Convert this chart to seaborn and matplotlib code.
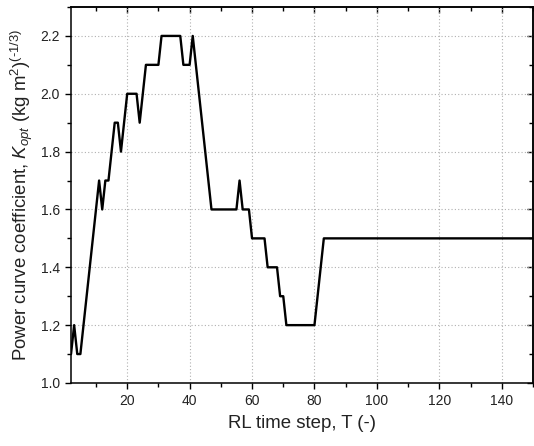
import matplotlib
matplotlib.use("Agg")
import matplotlib.pyplot as plt
import seaborn as sns
import pandas as pd
from matplotlib.ticker import MultipleLocator

# Data (vertices of the line)
time_step = [2, 3, 4, 5, 11, 12, 13, 14, 16, 17, 18, 20, 23, 24, 26, 30, 31, 37, 38, 40,
             41, 47, 55, 56, 57, 59, 60, 64, 65, 68, 69, 70, 71, 80, 83, 150]
k_opt = [1.1, 1.2, 1.1, 1.1, 1.7, 1.6, 1.7, 1.7, 1.9, 1.9, 1.8, 2.0, 2.0, 1.9, 2.1, 2.1, 2.2, 2.2, 2.1, 2.1,
         2.2, 1.6, 1.6, 1.7, 1.6, 1.6, 1.5, 1.5, 1.4, 1.4, 1.3, 1.3, 1.2, 1.2, 1.5, 1.5]

x_ticks = [20, 40, 60, 80, 100, 120, 140]
y_ticks = [1.0, 1.2, 1.4, 1.6, 1.8, 2.0, 2.2]

sns.set_theme(style="white")
plt.rcParams['font.family'] = ['Liberation Sans', 'DejaVu Sans']
plt.rcParams['mathtext.fontset'] = 'custom'
plt.rcParams['mathtext.rm'] = 'Liberation Sans'
plt.rcParams['mathtext.it'] = 'Liberation Sans:italic'

df = pd.DataFrame({"T": time_step, "K": k_opt})

fig = plt.figure(figsize=(5.34, 4.46), dpi=100)
ax = fig.add_axes([0.133, 0.1413, 0.865, 0.843])

sns.lineplot(data=df, x="T", y="K", ax=ax, color="black", linewidth=1.7, sort=False)

ax.set_xlim(2, 150)
ax.set_ylim(1.0, 2.3)
ax.set_xticks(x_ticks)
ax.set_yticks(y_ticks)
ax.xaxis.set_minor_locator(MultipleLocator(10))
ax.yaxis.set_minor_locator(MultipleLocator(0.1))
ax.set_yticklabels([f"{v:.1f}" for v in y_ticks])

ax.grid(True, which="major", color="#b0b0b0", linestyle=(0, (1, 2)), linewidth=0.8)

for s in ax.spines.values():
    s.set_color("black")
    s.set_linewidth(1.1)

ax.tick_params(axis="both", which="major", direction="out", length=4.5, width=1.0,
               color="black", labelsize=10, labelcolor="#222222", bottom=True, left=True, pad=3.5)
ax.tick_params(axis="both", which="minor", direction="out", length=3, width=1.0,
               color="black", bottom=True, left=True)

# Mirrored inward ticks on top and right
sec_x = ax.secondary_xaxis("top")
sec_x.set_xticks(x_ticks)
sec_x.xaxis.set_minor_locator(MultipleLocator(10))
sec_x.tick_params(which="major", direction="in", length=4.5, width=1.0, labeltop=False, color="black")
sec_x.tick_params(which="minor", direction="in", length=3, width=1.0, color="black")
sec_y = ax.secondary_yaxis("right")
sec_y.set_yticks(y_ticks)
sec_y.yaxis.set_minor_locator(MultipleLocator(0.1))
sec_y.tick_params(which="major", direction="in", length=4.5, width=1.0, labelright=False, color="black")
sec_y.tick_params(which="minor", direction="in", length=3, width=1.0, color="black")
for sec in (sec_x, sec_y):
    for s in sec.spines.values():
        s.set_linewidth(1.1)
        s.set_color("black")

ax.set_xlabel("RL time step, T (-)", fontsize=13.4, color="#222222", labelpad=5)
ax.set_ylabel("Power curve coefficient, $K_{opt}$ (kg m$^{2}$)$^{(\u20101/3)}$",
              fontsize=13.4, color="#222222", labelpad=4)

fig.savefig("out.png", dpi=100)
